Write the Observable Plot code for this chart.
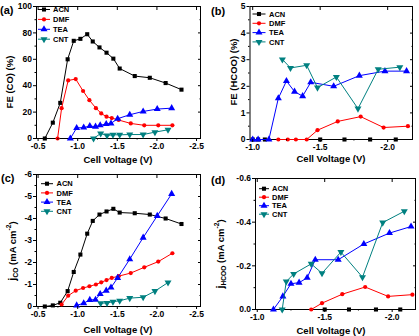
<!DOCTYPE html>
<html><head><meta charset="utf-8">
<script src="https://cdn.jsdelivr.net/npm/d3@7"></script>
<script src="https://cdn.jsdelivr.net/npm/@observablehq/plot@0.6"></script>
<style>
body{margin:0;background:#fff;}
#wrap{position:relative;width:419px;height:336px;overflow:hidden;font-family:"Liberation Sans",Arial,sans-serif;font-weight:bold;color:#000;background:#fff;}
.panel{position:absolute;}
.lab{position:absolute;white-space:nowrap;font-weight:bold;line-height:1;}
.ytitle{transform:translate(-50%,-50%) rotate(-90deg);font-size:9.5px;}
.xtitle{transform:translate(-50%,-50%);font-size:9.5px;}
.plabel{font-size:11px;}
sub,sup{font-size:70%;line-height:0;}
</style></head><body><div id="wrap"></div>
<script>
// ---------- DATA ----------
const seriesNames = ["ACN", "DMF", "TEA", "CNT"];
const seriesColors = ["#000000", "#ff0000", "#0000ff", "#008080"];

// (a) FE (CO) (%)
const aAcnV = [-0.585, -0.686, -0.78, -0.873, -0.95, -1.034, -1.12, -1.19, -1.275, -1.364, -1.45, -1.53, -1.72, -1.91, -2.11, -2.31];
const aAcnY = [0, 12, 27, 60, 74, 75.5, 79, 73.5, 69, 65, 60.5, 53, 47.3, 46, 42, 37];
const aDmfV = [-0.746, -0.797, -0.88, -0.975, -1.068, -1.148, -1.23, -1.297, -1.364, -1.43, -1.517, -1.67, -1.84, -2.017, -2.195];
const aDmfY = [0, 23, 44, 45, 36, 29, 23, 19, 16.5, 15.5, 14, 11.4, 10, 10, 10];
const aTeaV = [-0.907, -0.987, -1.076, -1.153, -1.225, -1.284, -1.36, -1.42, -1.504, -1.657, -1.826, -2.004, -2.186];
const aTeaY = [0, 8, 8.3, 9.4, 9, 10, 11, 11.4, 15, 18, 20.5, 22.3, 23];
const aCntV = [-1.2, -1.29, -1.37, -1.445, -1.53, -1.657, -1.826, -1.975, -2.14];
const aCntY = [0, 3.8, 2.3, 2.8, 2.8, 3, 3, 4.8, 6.6];

// (b) FE (HCOO) (%)
const bAcnV = [-1.0, -1.04, -1.09, -1.5, -1.68, -1.87, -2.06];
const bAcnY = [0, 0, 0, 0, 0, 0, 0];
const bDmfV = [-1.19, -1.26, -1.32, -1.4, -1.48, -1.63, -1.8, -1.97, -2.15];
const bDmfY = [0, 0, 0, 0, 0.35, 0.68, 0.86, 0.45, 0.5];
const bTeaV = [-1.0, -1.04, -1.12, -1.19, -1.25, -1.31, -1.37, -1.43, -1.6, -1.79, -1.98, -2.14];
const bTeaY = [0, 0, 0, 1.55, 2.2, 1.8, 1.63, 2.15, 2.0, 2.4, 2.57, 2.57];
const bCntV = [-1.22, -1.28, -1.4, -1.48, -1.62, -1.78, -1.93, -2.09];
const bCntY = [3.01, 2.69, 2.79, 1.95, 2.35, 1.16, 2.64, 2.72];

// (c) j_CO (mA cm-2)
const cAcnV = [-0.585, -0.686, -0.78, -0.873, -0.95, -1.034, -1.12, -1.19, -1.275, -1.364, -1.45, -1.53, -1.72, -1.91, -2.11, -2.31];
const cAcnY = [0, -0.05, -0.17, -0.7, -1.57, -2.36, -3.31, -3.89, -4.18, -4.32, -4.44, -4.27, -4.24, -4.18, -4.0, -3.75];
const cDmfV = [-0.797, -0.88, -0.975, -1.068, -1.148, -1.23, -1.297, -1.364, -1.43, -1.517, -1.67, -1.84, -2.017, -2.195];
const cDmfY = [-0.09, -0.49, -0.72, -0.84, -0.92, -1.0, -1.1, -1.2, -1.3, -1.38, -1.52, -1.78, -2.04, -2.42];
const cTeaV = [-0.987, -1.076, -1.153, -1.225, -1.284, -1.36, -1.42, -1.504, -1.657, -1.826, -2.004, -2.186];
const cTeaY = [-0.05, -0.15, -0.3, -0.31, -0.57, -0.72, -0.86, -1.3, -2.15, -3.13, -4.12, -5.12];
const cCntV = [-1.29, -1.37, -1.445, -1.53, -1.657, -1.826, -1.975, -2.14];
const cCntY = [-0.15, -0.16, -0.22, -0.26, -0.38, -0.42, -0.7, -1.09];

// (d) j_HCOO (mA cm-2)
const dAcnV = [-1.5, -1.68, -1.88, -2.06];
const dAcnY = [0, 0, 0, 0];
const dDmfV = [-1.4, -1.48, -1.63, -1.8, -1.97, -2.15];
const dDmfY = [0, -0.029, -0.07, -0.103, -0.06, -0.068];
const dTeaV = [-1.12, -1.19, -1.25, -1.31, -1.37, -1.43, -1.6, -1.79, -1.98, -2.14];
const dTeaY = [0, -0.06, -0.118, -0.123, -0.145, -0.228, -0.228, -0.3, -0.35, -0.38];
const dCntV = [-1.185, -1.215, -1.27, -1.4, -1.48, -1.62, -1.78, -1.93, -2.09];
const dCntY = [0, -0.128, -0.163, -0.209, -0.166, -0.263, -0.148, -0.398, -0.45];

// tick values
const xTicksAC = [-0.5, -1.0, -1.5, -2.0, -2.5];
const xMinorAC = [-0.75, -1.25, -1.75, -2.25];
const xTicksBD = [-1.0, -1.5, -2.0];
const xMinorBD = [-1.25, -1.75];
const yTicksA = [0, 20, 40, 60, 80, 100];
const yMinorA = [10, 30, 50, 70, 90];
const yTicksB = [0, 1, 2, 3, 4, 5];
const yMinorB = [0.5, 1.5, 2.5, 3.5, 4.5];
const yTicksC = [0, -1, -2, -3, -4, -5, -6];
const yMinorC = [-0.5, -1.5, -2.5, -3.5, -4.5, -5.5];
const yTicksD = [0, -0.2, -0.4, -0.6];
const yMinorD = [-0.1, -0.3, -0.5];

// ---------- RENDER ----------
const symDown = {
  draw(ctx, size) {
    const y = -Math.sqrt(size / (Math.sqrt(3) * 3));
    ctx.moveTo(0, -y * 2);
    ctx.lineTo(-Math.sqrt(3) * y, y);
    ctx.lineTo(Math.sqrt(3) * y, y);
    ctx.closePath();
  }
};
const symbols = [d3.symbolSquare, "circle", d3.symbolTriangle, symDown];
const radii = [2.3, 2.1, 2.6, 2.6];
const wrap = document.getElementById("wrap");

function fmtFixed(n) { return d => Number(d).toFixed(n); }
const blank = () => "";

function panel(cfg) {
  const marks = [Plot.frame({stroke: "#000", strokeWidth: 1})];
  cfg.series.forEach((s, k) => {
    const rows = s[0].map((v, j) => ({v, y: s[1][j]}));
    marks.push(Plot.line(rows, {x: "v", y: "y", stroke: seriesColors[k], strokeWidth: 1}));
    marks.push(Plot.dot(rows, {x: "v", y: "y", fill: seriesColors[k], stroke: "none", symbol: symbols[k], r: radii[k]}));
  });
  marks.push(Plot.axisX(cfg.xTicks, {anchor: "bottom", tickSize: 3, tickPadding: 1.5, tickFormat: fmtFixed(1), label: null}));
  marks.push(Plot.axisX(cfg.xMinor, {anchor: "bottom", tickSize: 1.5, tickFormat: blank, label: null}));
  marks.push(Plot.axisY(cfg.yTicks, {anchor: "left", tickSize: 3, tickPadding: 1.5, tickFormat: cfg.yFmt, label: null}));
  marks.push(Plot.axisY(cfg.yMinor, {anchor: "left", tickSize: 1.5, tickFormat: blank, label: null}));
  marks.push(Plot.axisX(cfg.xTicks, {anchor: "top", tickSize: -3, tickFormat: blank, label: null}));
  marks.push(Plot.axisY(cfg.yTicks, {anchor: "right", tickSize: -3, tickFormat: blank, label: null}));
  marks.push(Plot.axisY(cfg.yMinor, {anchor: "right", tickSize: -1.5, tickFormat: blank, label: null}));

  const svg = Plot.plot({
    width: cfg.w, height: cfg.h,
    marginLeft: cfg.m[3], marginRight: cfg.m[1], marginTop: cfg.m[0], marginBottom: cfg.m[2],
    x: {domain: cfg.xDomain},
    y: {domain: cfg.yDomain},
    style: {fontFamily: "'Liberation Sans', Arial, sans-serif", fontSize: "8.5px", fontWeight: "bold", background: "transparent", overflow: "visible", color: "#000"},
    marks
  });
  // legend (inside the frame, top-left)
  const g = d3.select(svg).append("g")
    .attr("font-size", 7.5).attr("font-weight", "bold").attr("text-anchor", "start");
  const L = cfg.legend;
  seriesNames.forEach((name, k) => {
    const yy = L.y + k * L.dy;
    g.append("line").attr("x1", L.x0).attr("x2", L.x1).attr("y1", yy).attr("y2", yy)
      .attr("stroke", seriesColors[k]).attr("stroke-width", 1);
    const sym = k === 1 ? d3.symbolCircle : symbols[k];
    g.append("path").attr("d", d3.symbol(sym, Math.PI * radii[k] * radii[k])())
      .attr("transform", `translate(${(L.x0 + L.x1) / 2},${yy})`).attr("fill", seriesColors[k]);
    g.append("text").attr("x", L.tx).attr("y", yy).attr("dy", "0.35em")
      .attr("text-anchor", "start").attr("fill", "#000").text(name);
  });
  const div = document.createElement("div");
  div.className = "panel";
  div.style.left = cfg.left + "px";
  div.style.top = cfg.top + "px";
  div.appendChild(svg);
  wrap.appendChild(div);
}

function label(html, cls, x, y) {
  const d = document.createElement("div");
  d.className = "lab " + cls;
  d.style.left = x + "px";
  d.style.top = y + "px";
  d.innerHTML = html;
  wrap.appendChild(d);
}

panel({left: 0, top: 0, w: 210, h: 168, m: [6, 10, 30, 36],
  xDomain: [-0.48, -2.55], yDomain: [0, 100],
  xTicks: xTicksAC, xMinor: xMinorAC, yTicks: yTicksA, yMinor: yMinorA, yFmt: fmtFixed(0),
  series: [[aAcnV, aAcnY], [aDmfV, aDmfY], [aTeaV, aTeaY], [aCntV, aCntY]],
  legend: {x0: 38, x1: 50, tx: 53, y: 9.5, dy: 9.9}});

panel({left: 210, top: 0, w: 209, h: 168, m: [6, 7, 29, 39.5],
  xDomain: [-0.98, -2.184], yDomain: [0, 5],
  xTicks: xTicksBD, xMinor: xMinorBD, yTicks: yTicksB, yMinor: yMinorB, yFmt: fmtFixed(0),
  series: [[bAcnV, bAcnY], [bDmfV, bDmfY], [bTeaV, bTeaY], [bCntV, bCntY]],
  legend: {x0: 42.5, x1: 55.5, tx: 59, y: 14, dy: 9.3}});

panel({left: 0, top: 168, w: 210, h: 168, m: [6, 10, 30, 36],
  xDomain: [-0.48, -2.55], yDomain: [0, -6],
  xTicks: xTicksAC, xMinor: xMinorAC, yTicks: yTicksC, yMinor: yMinorC, yFmt: fmtFixed(0),
  series: [[cAcnV, cAcnY], [cDmfV, cDmfY], [cTeaV, cTeaY], [cCntV, cCntY]],
  legend: {x0: 41, x1: 53, tx: 56.5, y: 15.7, dy: 9.2}});

panel({left: 210, top: 168, w: 209, h: 168, m: [10, 4, 27, 45],
  xDomain: [-0.987, -2.173], yDomain: [0, -0.6],
  xTicks: xTicksBD, xMinor: xMinorBD, yTicks: yTicksD, yMinor: yMinorD, yFmt: fmtFixed(1),
  series: [[dAcnV, dAcnY], [dDmfV, dDmfY], [dTeaV, dTeaY], [dCntV, dCntY]],
  legend: {x0: 49, x1: 59, tx: 62, y: 20.7, dy: 8.5}});

// axis titles & panel labels
label("Cell Voltage (V)", "xtitle", 118, 160);
label("Cell Voltage (V)", "xtitle", 331, 159);
label("Cell Voltage (V)", "xtitle", 118, 329.5);
label("Cell Voltage (V)", "xtitle", 331, 331);
label("FE (CO) (%)", "ytitle", 9.5, 82);
label("FE (HCOO) (%)", "ytitle", 234, 72);
label("<span style='font-size:11px'>j</span><sub>CO</sub> (mA cm<sup>-2</sup>)", "ytitle", 12, 251);
label("<span style='font-size:11px'>j</span><sub>HCOO</sub> (mA cm<sup>-2</sup>)", "ytitle", 220, 254);
label("(a)", "plabel", 0, 5);
label("(b)", "plabel", 211, 6);
label("(c)", "plabel", 1, 173);
label("(d)", "plabel", 211, 175);
</script></body></html>
